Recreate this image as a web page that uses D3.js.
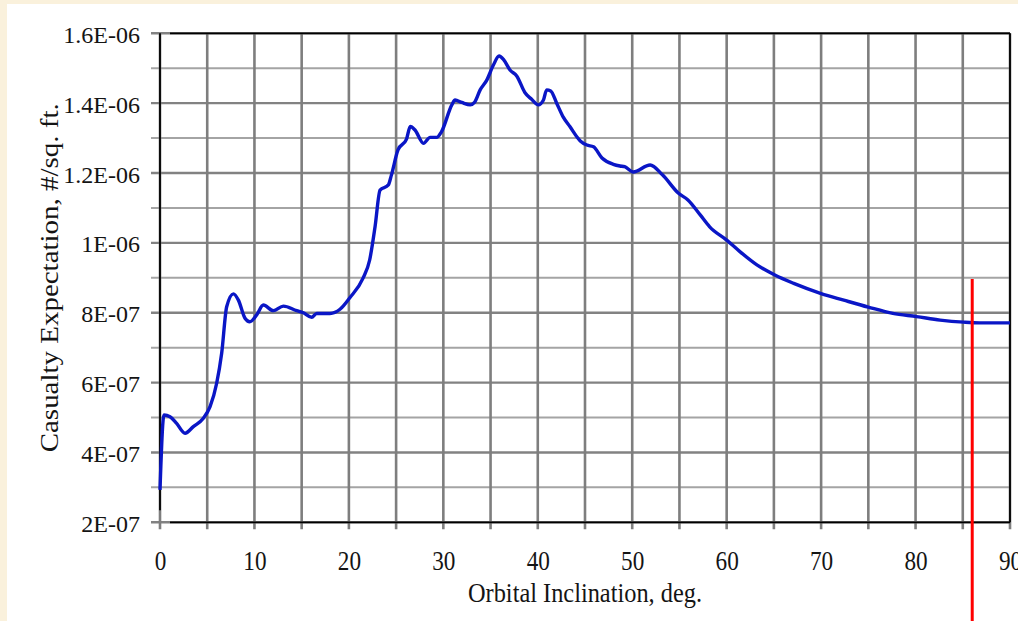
<!DOCTYPE html>
<html>
<head>
<meta charset="utf-8">
<script src="https://cdn.jsdelivr.net/npm/d3@7"></script>
<style>
  html, body { margin: 0; padding: 0; background: #faf1dc; }
  svg { display: block; }
  text { font-family: "Liberation Serif", "Times New Roman", serif; fill: #141414; }
</style>
</head>
<body>
<svg id="chart" width="1018" height="621"></svg>
<script>
// ── Data ──────────────────────────────────────────────────────────
const inclination = [0, 0.42, 1.06, 1.76, 2.65, 3.53, 4.59, 5.3, 6.0, 6.53,
  7.06, 7.77, 8.3, 9.0, 9.5, 10.24, 10.94, 12.0, 13.06, 14.47,
  15.18, 16.06, 16.59, 18.0, 19.06, 20.1, 21.5, 22.2, 22.77, 23.3,
  24.18, 24.5, 25.2, 26.1, 26.5, 27.0, 27.9, 28.6, 29.3, 29.8,
  30.9, 31.24, 31.95, 32.85, 33.3, 33.9, 34.6, 35.3, 35.9, 36.4,
  37.06, 37.77, 38.65, 39.35, 40.06, 40.6, 40.94, 41.37, 42.0, 42.7,
  43.4, 44.5, 45.2, 45.9, 46.8, 48.0, 48.7, 49.2, 50.1, 51.9,
  53.2, 54.9, 55.9, 57.2, 58.2, 60.0, 61.4, 63.2, 65.1, 67.1,
  70.0, 72.4, 75.0, 77.6, 80.1, 82.6, 85.1, 86.8, 90];

const casualtyE7 = [2.93, 5.07, 5.02, 4.83, 4.55, 4.74, 4.98, 5.31, 5.98, 6.84,
  8.17, 8.54, 8.36, 7.84, 7.74, 7.94, 8.22, 8.06, 8.19, 8.06,
  8.0, 7.87, 7.98, 7.98, 8.1, 8.43, 8.99, 9.51, 10.46, 11.51,
  11.66, 11.94, 12.66, 12.97, 13.33, 13.23, 12.85, 13.02, 13.02, 13.18,
  13.95, 14.09, 14.02, 13.95, 14.02, 14.38, 14.66, 15.09, 15.35, 15.24,
  14.95, 14.78, 14.3, 14.11, 13.95, 14.09, 14.38, 14.35, 14.0, 13.6,
  13.33, 12.92, 12.8, 12.75, 12.43, 12.25, 12.2, 12.18, 12.03, 12.23,
  11.95, 11.42, 11.23, 10.8, 10.46, 10.08, 9.75, 9.37, 9.08, 8.84,
  8.55, 8.36, 8.16, 7.98, 7.89, 7.79, 7.73, 7.71, 7.71]; // units of 1E-07

const xTicks = [0, 10, 20, 30, 40, 50, 60, 70, 80, 90];
const yTicks = [2e-7, 4e-7, 6e-7, 8e-7, 1e-6, 1.2e-6, 1.4e-6, 1.6e-6];
const yTickLabels = ['2E-07', '4E-07', '6E-07', '8E-07', '1E-06', '1.2E-06', '1.4E-06', '1.6E-06'];
const markerInclination = 86;

const points = inclination.map((d, i) => ({ x: d, y: casualtyE7[i] * 1e-7 }));

// ── Layout ───────────────────────────────────────────────────────
const svg = d3.select('#chart');
const L = 160, R = 1010, T = 33.3, B = 522.3;

const x = d3.scaleLinear().domain([0, 90]).range([L, R]);
const y = d3.scaleLinear().domain([2e-7, 1.6e-6]).range([B, T]);

svg.append('rect').attr('width', 1018).attr('height', 621).attr('fill', '#faf1dc');
svg.append('rect').attr('x', 7).attr('y', 4).attr('width', 1011).attr('height', 617).attr('fill', '#ffffff');

// grid – horizontal every 1E-07, darker at labelled values
const hGrid = d3.range(2, 17).map(k => k * 1e-7);
svg.append('g').selectAll('line').data(hGrid).join('line')
  .attr('x1', L - 9).attr('x2', R)
  .attr('y1', d => y(d)).attr('y2', d => y(d))
  .attr('stroke', (d, i) => i % 2 === 0 ? '#828282' : '#a4a4a4')
  .attr('stroke-width', (d, i) => i % 2 === 0 ? 2.4 : 2);

// grid – vertical every 5 deg
const vGrid = d3.range(0, 91, 5);
svg.append('g').selectAll('line').data(vGrid).join('line')
  .attr('x1', d => x(d)).attr('x2', d => x(d))
  .attr('y1', T).attr('y2', B + 7)
  .attr('stroke', '#7e7e7e')
  .attr('stroke-width', 2.6);

// frame
const frame = svg.append('g').attr('stroke', '#000').attr('stroke-width', 1.8);
frame.append('line').attr('x1', L + 10).attr('x2', R).attr('y1', T).attr('y2', T);
frame.append('line').attr('x1', L + 10).attr('x2', R).attr('y1', B).attr('y2', B);
frame.append('line').attr('x1', R).attr('x2', R).attr('y1', T).attr('y2', B);
frame.append('line').attr('x1', L).attr('x2', L).attr('y1', T).attr('y2', B - 12);

// curve
svg.append('path')
  .datum(points)
  .attr('fill', 'none')
  .attr('stroke', '#0a16c6')
  .attr('stroke-width', 3.4)
  .attr('stroke-linejoin', 'round')
  .attr('d', d3.line().x(d => x(d.x)).y(d => y(d.y)).curve(d3.curveMonotoneX));

// red marker
svg.append('line')
  .attr('x1', x(markerInclination)).attr('x2', x(markerInclination))
  .attr('y1', 279).attr('y2', 621)
  .attr('stroke', '#ff0000').attr('stroke-width', 3);

// ── Axes labels ─────────────────────────────────────────────────
const yAxis = svg.append('g').attr('transform', 'translate(140,0)')
  .call(d3.axisLeft(y).tickValues(yTicks).tickFormat((d, i) => yTickLabels[i]).tickSize(0).tickPadding(0));
yAxis.select('.domain').remove();
yAxis.selectAll('text')
  .attr('x', 0).attr('dy', 9)
  .style('font-size', '24px').style('font-family', '"Liberation Serif", serif').attr('fill', '#141414');

const xAxis = svg.append('g').attr('transform', 'translate(0,570)')
  .call(d3.axisBottom(x).tickValues(xTicks).tickSize(0).tickPadding(0));
xAxis.select('.domain').remove();
xAxis.selectAll('text')
  .attr('y', 0).attr('dy', 0)
  .attr('transform', 'scale(0.86,1)')
  .style('font-size', '27px').style('font-family', '"Liberation Serif", serif').attr('fill', '#141414');

svg.append('text')
  .attr('x', (L + R) / 2).attr('y', 601.5)
  .attr('text-anchor', 'middle')
  .attr('textLength', 234).attr('lengthAdjust', 'spacingAndGlyphs')
  .style('font-size', '27px')
  .text('Orbital Inclination, deg.');

svg.append('text')
  .attr('transform', `translate(58,${(T + B) / 2}) rotate(-90)`)
  .attr('text-anchor', 'middle')
  .attr('textLength', 349).attr('lengthAdjust', 'spacingAndGlyphs')
  .style('font-size', '26px')
  .text('Casualty Expectation, #/sq. ft.');
</script>
</body>
</html>
